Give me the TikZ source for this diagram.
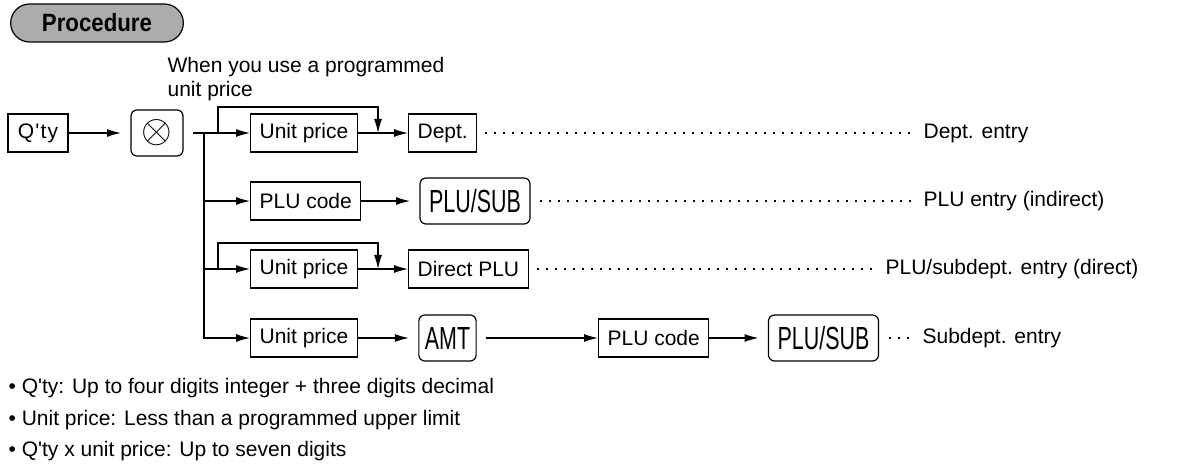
\documentclass[tikz,border=0pt]{standalone}
\usepackage{fontspec}
\setmainfont{Liberation Sans}[Ligatures=TeXOff]
\usetikzlibrary{arrows.meta,shapes.misc}
\newcommand{\keyfont}[1]{\scalebox{0.67}[1]{\fontsize{16}{16}\selectfont #1}}

\begin{document}
\begin{tikzpicture}[x=0.5pt,y=-0.5pt,
    font=\fontsize{10.5}{12}\selectfont,
    line width=0.6pt,
    arr/.style={-{Latex[length=7pt,width=4pt]}},
    entrybox/.style={draw, inner xsep=4.5pt, inner ysep=0pt, minimum height=19pt, anchor=west},
    keybox/.style={draw, rounded corners=3pt, minimum height=23pt, inner xsep=3pt, outer sep=5pt},
    dotline/.style={dash pattern=on 1pt off 3.5pt, shorten <=4pt, shorten >=3pt},
    entrylabel/.style={anchor=west, inner sep=2pt}]

  \useasboundingbox (0,0) rectangle (1188,464);

  % Heading
  \node[draw, rounded rectangle, fill=gray!65, minimum width=93pt, minimum height=19pt] (proc) at (97,23)
    {\scalebox{0.89}[1]{\fontsize{12.5}{12.5}\selectfont\bfseries Procedure}};

  % Note above the first row
  \node[align=left, anchor=west, inner sep=0pt] (note) at (167,79) {When you use a programmed\\unit price};

  % Quantity and multiply key
  \node[entrybox, anchor=center, minimum width=30pt] (qty) at (38,133) {Q\kern0.6pt'\kern0.6pt t\kern0.6pt y};
  \node[keybox, minimum width=26pt] (mult) at (157,133) {\scalebox{1.8}{$\otimes$}};

  % Entry rows
  \node[entrybox] (up1) at (250,133) {Unit price};
  \node[entrybox] (dept) at (408,133) {Dept.};
  \node[entrybox] (plu1) at (250,201) {PLU code};
  \node[keybox, minimum width=55pt] (plusub1) at (475,201) {\keyfont{PLU/SUB}};
  \node[entrybox] (up2) at (250,269) {Unit price};
  \node[entrybox] (dplu) at (408,269) {Direct PLU};
  \node[entrybox] (up3) at (250,338) {Unit price};
  \node[keybox, minimum width=26.5pt] (amt) at (447.5,338) {\keyfont{AMT}};
  \node[entrybox] (plu2) at (598,338) {PLU code};
  \node[keybox, minimum width=55pt] (plusub2) at (823.5,338) {\keyfont{PLU/SUB}};

  % Result labels
  \node[entrylabel] (lbl1) at (919,133) {Dept. entry};
  \node[entrylabel] (lbl2) at (919,201) {PLU entry (indirect)};
  \node[entrylabel] (lbl3) at (881,269) {PLU/subdept. entry (direct)};
  \node[entrylabel] (lbl4) at (918,338) {Subdept. entry};

  % Trunk and branches
  \coordinate (tr) at (204,133);
  \draw[arr] (qty) -- (mult);
  \draw[arr] (mult) -- (up1);
  \draw[arr] (tr) |- (up3);
  \draw[arr] (tr |- plu1) -- (plu1);
  \draw[arr] (tr |- up2) -- (up2);

  % Bypass loops round the unit price
  \foreach \a/\b in {up1/dept, up2/dplu} {
    \draw[arr] (\a) -- (\b);
    \draw[arr] ([xshift=-16pt]\a.west) -- ++(0,-26) -| ([xshift=-15pt]\b.west);
  }

  % Key sequences
  \draw[arr] (plu1) -- (plusub1);
  \draw[arr] (up3) -- (amt);
  \draw[arr] (amt) -- (plu2);
  \draw[arr] (plu2) -- (plusub2);

  % Dotted leaders
  \draw[dotline] (dept) -- (lbl1);
  \draw[dotline, shorten <=0pt] (plusub1) -- (lbl2);
  \draw[dotline] (dplu) -- (lbl3);
  \draw[dotline, shorten <=0pt] (plusub2) -- (lbl4);

  % Notes
  \node[align=left, anchor=west, inner sep=0pt, font=\fontsize{10.5}{15.75}\selectfont] (notes) at (8,420)
    {• Q'ty: Up to four digits integer + three digits decimal\\
     • Unit price: Less than a programmed upper limit\\
     • Q'ty x unit price: Up to seven digits};

\end{tikzpicture}
\end{document}
